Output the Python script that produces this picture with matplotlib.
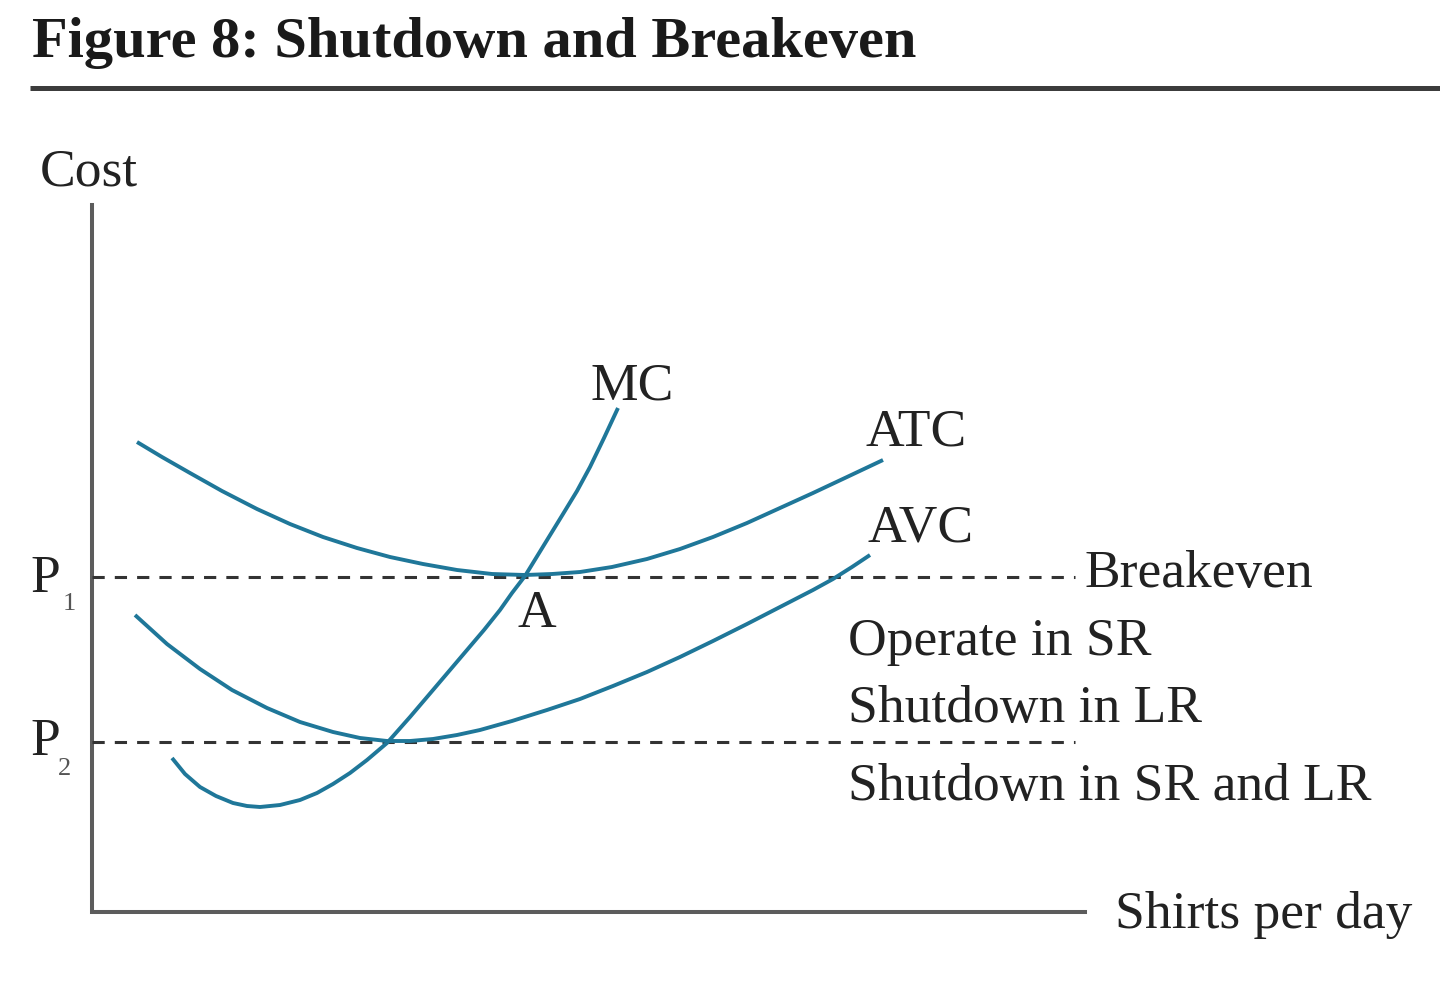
import matplotlib
matplotlib.use("Agg")
import matplotlib.pyplot as plt

# quantity / cost (origin at the axis corner)
atc_q = [45, 70, 98, 130, 165, 198, 231, 265, 298, 331, 365, 400, 433,
         460, 488, 520, 555, 588, 621, 655, 688, 721, 755, 791]
atc_c = [470, 455, 439, 421, 403, 388, 375, 364, 355, 348, 342, 338, 337,
         338, 340, 345, 353, 363, 375, 389, 404, 419, 435, 452]

avc_q = [43, 75, 108, 140, 175, 208, 241, 268, 295, 318, 341, 365, 388,
         420, 455, 488, 521, 555, 588, 621, 655, 688, 721, 741, 760, 778]
avc_c = [297, 268, 243, 222, 204, 190, 180, 174, 171, 171, 173, 177, 182,
         191, 202, 213, 226, 240, 255, 271, 288, 305, 322, 333, 345, 357]

mc_q = [80, 93, 108, 124, 141, 155, 168, 188, 208, 225, 241, 258, 275, 295,
        318, 341, 358, 375, 392, 408, 420, 433, 452, 471, 485, 498, 512, 526]
mc_c = [154, 138, 125, 116, 109, 106, 105, 107, 112, 119, 128, 139, 152, 169,
        195, 222, 242, 262, 282, 302, 319, 336, 367, 398, 421, 445, 474, 504]

p1 = 335
p2 = 170
dash_end = 983

curve_color = "#1f7799"
axis_color = "#5c5c5c"
font = ["Liberation Serif", "DejaVu Serif"]

fig = plt.figure(figsize=(14.4, 9.84), dpi=100)
ax = fig.add_axes([0, 0, 1, 1])
ax.set_xlim(-92, 1348)
ax.set_ylim(-72, 912)
ax.axis("off")

# title and rule
ax.text(-60, 855, "Figure 8: Shutdown and Breakeven", family=font,
        fontsize=42, fontweight="bold", color="#1a1a1a", va="baseline")
ax.plot([-62, 1348], [824, 824], color="#3c3c3c", linewidth=3.6,
        solid_capstyle="butt")

# axes
ax.plot([0, 0, 993], [707, 0, 0], color=axis_color, linewidth=2.9,
        solid_joinstyle="miter")

# price lines
for p in [p1, p2]:
    ax.plot([0, dash_end], [p, p], color="#333333", linewidth=2.2,
            linestyle=(0, (4, 3.3)))

# cost curves
for q, c in [(atc_q, atc_c), (avc_q, avc_c), (mc_q, mc_c)]:
    ax.plot(q, c, color=curve_color, linewidth=2.8, solid_capstyle="butt",
            solid_joinstyle="round")

labels = [
    (-52, 727, "Cost"),
    (498, 512, "MC"),
    (773, 467, "ATC"),
    (776, 370, "AVC"),
    (993, 325, "Breakeven"),
    (425, 285, "A"),
    (756, 257, "Operate in SR"),
    (756, 190, "Shutdown in LR"),
    (756, 112, "Shutdown in SR and LR"),
    (1023, -16, "Shirts per day"),
    (-62, 320, "P"),
    (-62, 157, "P"),
]
for x, y, s in labels:
    ax.text(x, y, s, family=font, fontsize=38.5, color="#222222", va="baseline")

ax.text(-29, 302, "1", family=font, fontsize=19, color="#555555", va="baseline")
ax.text(-34, 137, "2", family=font, fontsize=19, color="#555555", va="baseline")

fig.savefig("out.png", dpi=100, facecolor="white")
